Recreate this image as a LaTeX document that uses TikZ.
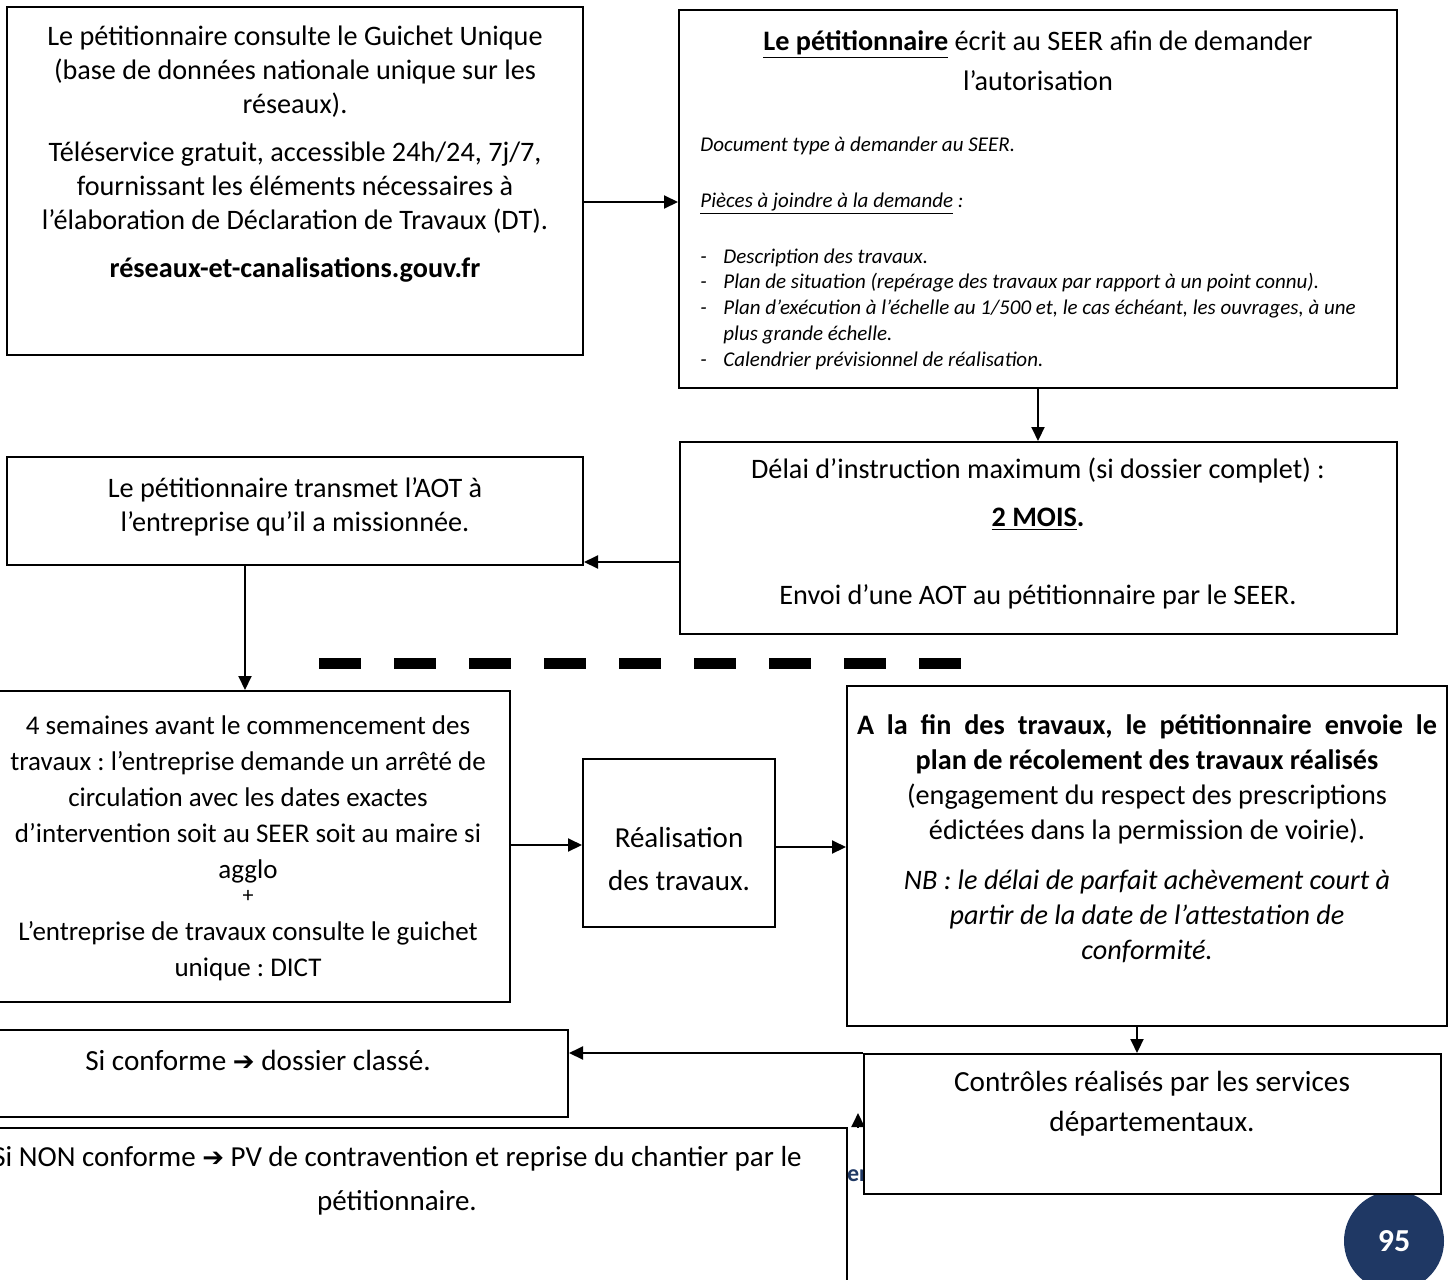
\documentclass[tikz,border=0pt]{standalone}
\usepackage{fontspec}
\setmainfont{Carlito}
\newfontfamily\symfont{DejaVu Sans}
\usetikzlibrary{arrows.meta,fit}
\definecolor{navy}{HTML}{1F3864}
\newcommand{\rarr}{{\symfont\fontsize{13}{10}\selectfont ➔}}
\frenchspacing
\begin{document}
\begin{tikzpicture}[x=0.5pt,y=-0.5pt,
  box/.style={draw, line width=1pt, fill=white, inner sep=0pt},
  txt/.style={inner sep=0pt, align=flush center, anchor=base, font=\fontsize{14.1}{17}\selectfont},
  sm/.style={inner sep=0pt, align=flush left, anchor=base west, font=\fontsize{10.5}{12.875}\selectfont\itshape},
  arr/.style={-{Triangle[length=7pt,width=6.5pt]}, line width=1pt},
]
\clip (0,0) rectangle (1455,1279);
\fill[white] (0,0) rectangle (1455,1279);

% page badge and hidden heading fragment
\node[circle, fill=navy, minimum size=50pt, inner sep=0pt, text=white,
      font=\bfseries\fontsize{16}{18}\selectfont] (pg) at (1394,1241) {95};
\node[inner sep=0pt, anchor=base east, text=navy, font=\bfseries\fontsize{12}{14}\selectfont] (er) at (868,1181) {er};

% boxes
\node[box, fit={(7,7) (583,355)}] (A) {};
\node[box, fit={(679,10) (1397,388)}] (B) {};
\node[box, fit={(680,442) (1397,634)}] (C) {};
\node[box, fit={(7,457) (583,565)}] (D) {};
\node[box, fit={(-15,691) (510,1002)}] (E) {};
\node[box, fit={(583,759) (775,927)}] (F) {};
\node[box, fit={(847,686) (1447,1026)}] (G) {};
\node[box, fit={(864,1054) (1441,1194)}] (H) {};
\node[box, fit={(-52,1030) (568,1117)}] (I) {};
\node[box, fit={(-53,1128) (847,1300)}] (J) {};

% texts
\node[txt, text width=288pt] (tA) at (295,46) {Le pétitionnaire consulte le Guichet Unique\\
(base de données nationale unique sur les\\ réseaux).\\[7pt]
Téléservice gratuit, accessible 24h/24, 7j/7,\\ fournissant les éléments nécessaires à\\
l’élaboration de Déclaration de Travaux (DT).\\[7pt]
\textbf{réseaux-et-canalisations.gouv.fr}};

\node[txt, text width=355pt] (tB) at (1038,50.5) {\underline{\textbf{Le pétitionnaire}} écrit au SEER afin de demander\\[3pt] l’autorisation};
\node[sm] (tB1) at (700,151) {Document type à demander au SEER.};
\node[sm] (tB2) at (700,207) {\underline{Pièces à joindre à la demande} :};
\node[sm, text width=345pt] (tB3) at (700,263) {\makebox[11.5pt][l]{-}Description des travaux.\\
\makebox[11.5pt][l]{-}Plan de situation (repérage des travaux par rapport à un point connu).\\
\makebox[11.5pt][l]{-}Plan d’exécution à l’échelle au 1/500 et, le cas échéant, les ouvrages, à une\\
\hspace*{11.5pt}plus grande échelle.\\
\makebox[11.5pt][l]{-}Calendrier prévisionnel de réalisation.};

\node[txt, text width=355pt] (tC) at (1038,478.5) {Délai d’instruction maximum (si dossier complet) :\\[7pt]
\underline{\textbf{2 MOIS}}\textbf{.}\\[22pt]
Envoi d’une AOT au pétitionnaire par le SEER.};

\node[txt, text width=288pt] (tD) at (295,497.5) {Le pétitionnaire transmet l’AOT à\\ l’entreprise qu’il a missionnée.};

\node[txt, text width=262pt, font=\fontsize{13.5}{17}\selectfont] (tE) at (248,734.5) {4 semaines avant le commencement des\\[1pt]
travaux : l’entreprise demande un arrêté de\\[1pt]
circulation avec les dates exactes\\[1pt]
d’intervention soit au SEER soit au maire si\\[1pt]
agglo\\[-5.25pt]
{\fontsize{11}{13}\selectfont +}\\[2.25pt]
L’entreprise de travaux consulte le guichet\\[1pt]
unique : DICT};

\node[txt, text width=96pt, font=\fontsize{14.5}{17}\selectfont] (tF) at (679,847.5) {Réalisation\\[4.5pt] des travaux.};

\node[txt, text width=300pt] (tG) at (1147,734.5) {\makebox[290pt][s]{\textbf{A la fin des travaux, le pétitionnaire envoie le}}\\[0.5pt]
\textbf{plan de récolement des travaux réalisés}\\[0.5pt]
(engagement du respect des prescriptions\\[0.5pt]
édictées dans la permission de voirie).\\[8pt]
\textit{NB : le délai de parfait achèvement court à}\\[0.5pt]
\textit{partir de la date de l’attestation de}\\[0.5pt]
\textit{conformité.}};

\node[txt, text width=288pt, font=\fontsize{14.6}{17}\selectfont] (tH) at (1152,1091.5) {Contrôles réalisés par les services\\[3pt] départementaux.};

\node[txt, text width=310pt, font=\fontsize{14.6}{17}\selectfont] (tI) at (258,1070.5) {Si conforme \rarr{} dossier classé.};

\node[txt, text width=450pt, font=\fontsize{14.5}{17}\selectfont] (tJ) at (397,1166.5) {Si NON conforme \rarr{} PV de contravention et reprise du chantier par le\\[5pt] pétitionnaire.};

% dashed separator
\coordinate (dL) at (319,663);
\coordinate (dR) at (961,663);
\draw[line width=5.5pt, dash pattern=on 21pt off 16.5pt] (dL) -- (dR);

% connectors
\coordinate (ay) at (0,202);
\draw[arr] (A.east |- ay) -- (B.west |- ay);
\draw[arr] (B.south) -- (C.north -| B.south);
\coordinate (cy) at (0,562);
\draw[arr] (C.west |- cy) -- (D.east |- cy);
\coordinate (dx) at (245,0);
\draw[arr] (D.south -| dx) -- (E.north -| dx);
\coordinate (ey) at (0,845);
\draw[arr] (E.east |- ey) -- (F.west |- ey);
\coordinate (fy) at (0,847);
\draw[arr] (F.east |- fy) -- (G.west |- fy);
\coordinate (gx) at (1137,0);
\draw[arr] (G.south -| gx) -- (H.north -| gx);
\draw[arr] (H.north west) -- (H.north west -| I.east);
\draw[arr] ([xshift=5pt]J.north east) -- ++(0,-14);
\end{tikzpicture}
\end{document}
